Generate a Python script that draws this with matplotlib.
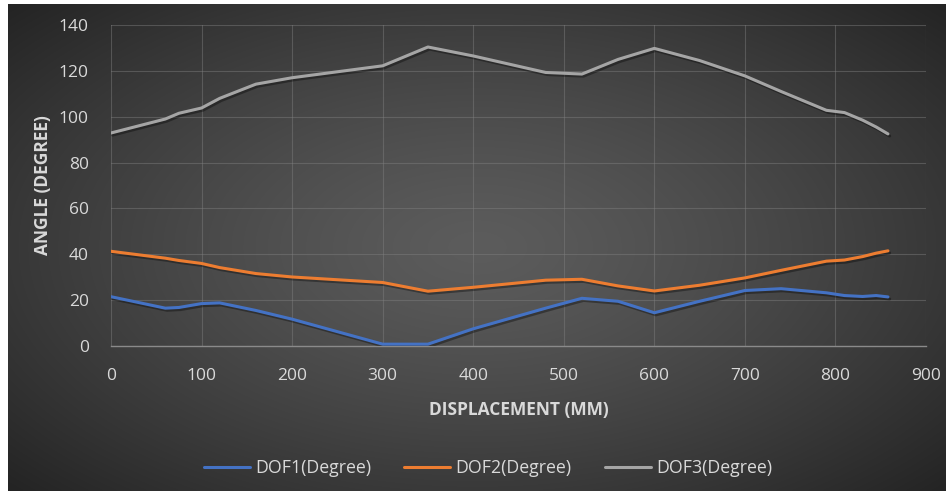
import numpy as np
import matplotlib
matplotlib.use("Agg")
import matplotlib.pyplot as plt
import matplotlib.patheffects as pe

# ---- data ----
displacement = [0, 60, 75, 100, 120, 160, 200, 300, 350, 400, 480, 520, 560,
                600, 650, 700, 740, 790, 810, 830, 845, 858]
dof1 = [21.5, 16.5, 16.8, 18.5, 18.8, 15.5, 11.7, 0.8, 0.8, 7.5, 16.5, 20.8,
        19.5, 14.5, 19.5, 24.2, 25.0, 23.2, 22.0, 21.6, 22.0, 21.4]
dof2 = [41.3, 38.3, 37.3, 36.0, 34.2, 31.6, 30.1, 27.7, 23.9, 25.6, 28.7, 29.1,
        26.2, 24.0, 26.5, 29.7, 33.0, 37.0, 37.5, 39.0, 40.5, 41.5]
dof3 = [92.9, 99.0, 101.5, 103.8, 108.0, 114.2, 117.0, 122.2, 130.4, 126.5,
        119.3, 118.6, 125.0, 129.8, 124.5, 117.8, 111.0, 102.8, 101.8, 98.5,
        95.5, 92.5]
series_names = ["DOF1(Degree)", "DOF2(Degree)", "DOF3(Degree)"]
x_ticks = [0, 100, 200, 300, 400, 500, 600, 700, 800, 900]
y_ticks = [0, 20, 40, 60, 80, 100, 120, 140]

colors = ["#4472C4", "#ED7D31", "#A5A5A5"]
text_color = "#D9D9D9"
font = ["Open Sans", "DejaVu Sans"]
plt.rcParams['font.family'] = font

W, H = 946, 491
fig = plt.figure(figsize=(W / 100, H / 100), dpi=100)
fig.patch.set_facecolor("white")

# radial gradient background
bg = fig.add_axes([8 / W, 0, 1 - 8 / W, 1 - 4 / H])
bg.set_axis_off()
gx = np.linspace(-1, 1, 400)
gy = np.linspace(-1, 1, 220)
GX, GY = np.meshgrid(gx, gy)
R = np.sqrt((GX * 1.0) ** 2 + (GY * 0.95) ** 2) / np.sqrt(2)
R = np.clip(R, 0, 1)
c_in = np.array([0x5C, 0x5C, 0x5C]) / 255
c_out = np.array([0x22, 0x22, 0x22]) / 255
img = c_in[None, None, :] * (1 - R[..., None] ** 1.3) + c_out[None, None, :] * (R[..., None] ** 1.3)
bg.imshow(img, aspect="auto", extent=[0, 1, 0, 1], interpolation="bilinear")
bg.set_xlim(0, 1)
bg.set_ylim(0, 1)

ax = fig.add_axes([111 / W, 1 - 346 / H, (926 - 111) / W, (346 - 25) / H])
ax.set_facecolor("none")
ax.set_zorder(2)

shadow = [pe.SimpleLineShadow(offset=(1.2, -1.5), shadow_color="black", alpha=0.35, rho=1.0),
          pe.Normal()]
for ys, c, n in zip([dof1, dof2, dof3], colors, series_names):
    ax.plot(displacement, ys, color=c, lw=2.2, label=n, solid_joinstyle="round",
            solid_capstyle="round", path_effects=shadow, zorder=3)

ax.set_xlim(0, 900)
ax.set_ylim(0, 140)
ax.set_xticks(x_ticks)
ax.set_yticks(y_ticks)
ax.grid(True, color="#808080", alpha=0.45, lw=0.8)
ax.set_axisbelow(True)
for s in ["top", "right", "left"]:
    ax.spines[s].set_visible(False)
ax.spines["bottom"].set_color("#8a8a8a")
ax.spines["bottom"].set_linewidth(1.0)
ax.tick_params(axis="both", length=0, colors=text_color, labelsize=12.5)
ax.tick_params(axis="x", pad=16)
ax.tick_params(axis="y", pad=16)

ax.set_xlabel("DISPLACEMENT (MM)", color=text_color, fontsize=12.5, fontweight="bold", labelpad=12)
ax.set_ylabel("ANGLE (DEGREE)", color=text_color, fontsize=12.5, fontweight="bold", labelpad=5)

leg = fig.legend(loc="center", bbox_to_anchor=(488 / W, 1 - 468 / H), ncol=3,
                 frameon=False, fontsize=12.8, handlelength=2.6, handletextpad=0.3,
                 columnspacing=1.85)
for t in leg.get_texts():
    t.set_color(text_color)
for l in leg.get_lines():
    l.set_linewidth(2.2)
    l.set_path_effects([])

fig.savefig("out.png", dpi=100, facecolor=fig.get_facecolor())
